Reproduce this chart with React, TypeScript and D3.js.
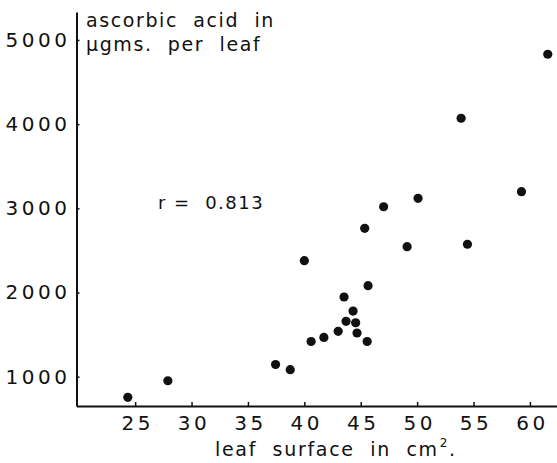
import { useEffect, useRef } from 'react';
import * as d3 from 'd3';

// leaf surface (cm2) vs ascorbic acid (ugms per leaf)
const leafSurface = [
  24.35, 27.9, 37.45, 38.75, 40.0, 40.6, 41.73, 43.0, 43.52, 43.7, 44.32, 44.55,
  44.67, 45.57, 45.65, 45.35, 47.03, 49.11, 50.08, 53.9, 54.46, 59.25, 61.58,
];
const ascorbicAcid = [
  755, 952, 1145, 1083, 2378, 1418, 1466, 1539, 1947, 1658, 1780, 1641,
  1519, 1418, 2081, 2763, 3019, 2544, 3119, 4070, 2573, 3198, 4830,
];
const xTicks = [25, 30, 35, 40, 45, 50, 55, 60];
const yTicks = [1000, 2000, 3000, 4000, 5000];

const width = 557;
const height = 463;
const font = '"DejaVu Sans", sans-serif';
const ink = '#111';

const App = () => {
  const svgRef = useRef<SVGSVGElement>(null);

  useEffect(() => {
    const svg = d3.select(svgRef.current);
    svg.selectAll('*').remove();

    const x = d3.scaleLinear().domain([19.8, 62.4]).range([76.5, 557]);
    const y = d3.scaleLinear().domain([652, 5332]).range([406, 12]);

    const xAxis = svg
      .append('g')
      .attr('transform', `translate(0,${y.range()[0]})`)
      .call(d3.axisBottom(x).tickValues(xTicks).tickSize(-4).tickSizeOuter(0).tickPadding(10));

    const yAxis = svg
      .append('g')
      .attr('transform', `translate(${x.range()[0]},0)`)
      .call(
        d3.axisLeft(y).tickValues(yTicks).tickFormat(d3.format('d')).tickSize(-3).tickSizeOuter(0).tickPadding(6)
      );

    [xAxis, yAxis].forEach(a => {
      a.attr('font-family', font).attr('font-size', 20);
      a.select('.domain').attr('stroke', ink).attr('stroke-width', 2);
      a.selectAll('.tick line').attr('stroke', ink).attr('stroke-width', 1.5);
      a.selectAll('.tick text').attr('fill', ink).style('letter-spacing', '3.5px');
    });
    xAxis.selectAll('.tick text').attr('dx', '0.1em');

    svg
      .append('g')
      .selectAll('circle')
      .data(leafSurface.map((v, i) => [v, ascorbicAcid[i]]))
      .join('circle')
      .attr('cx', d => x(d[0]))
      .attr('cy', d => y(d[1]))
      .attr('r', 4.6)
      .attr('fill', ink);

    const title = svg
      .append('text')
      .attr('font-family', font)
      .attr('font-size', 19)
      .attr('fill', ink)
      .style('white-space', 'pre')
      .style('letter-spacing', '1.6px');
    title.append('tspan').attr('x', 86).attr('y', 27).text('ascorbic  acid  in');
    title.append('tspan').attr('x', 86).attr('y', 51).text('µgms.  per  leaf');

    const xTitle = svg
      .append('text')
      .attr('x', 215)
      .attr('y', 456)
      .attr('font-family', font)
      .attr('font-size', 19)
      .attr('fill', ink)
      .style('white-space', 'pre')
      .style('letter-spacing', '1.7px');
    xTitle.append('tspan').text('leaf  surface  in  cm');
    xTitle.append('tspan').attr('dx', 1).attr('dy', -9).attr('font-size', 12).text('2');
    xTitle.append('tspan').attr('dy', 9).text('.');

    svg
      .append('text')
      .attr('x', 158)
      .attr('y', 209)
      .attr('font-family', font)
      .attr('font-size', 18)
      .attr('fill', ink)
      .style('white-space', 'pre')
      .style('letter-spacing', '1.5px')
      .text('r =  0.813');
  }, []);

  return (
    <svg
      ref={svgRef}
      width={width}
      height={height}
      style={{ position: 'absolute', left: 0, top: 0, background: '#fff' }}
    />
  );
};

export default App;
